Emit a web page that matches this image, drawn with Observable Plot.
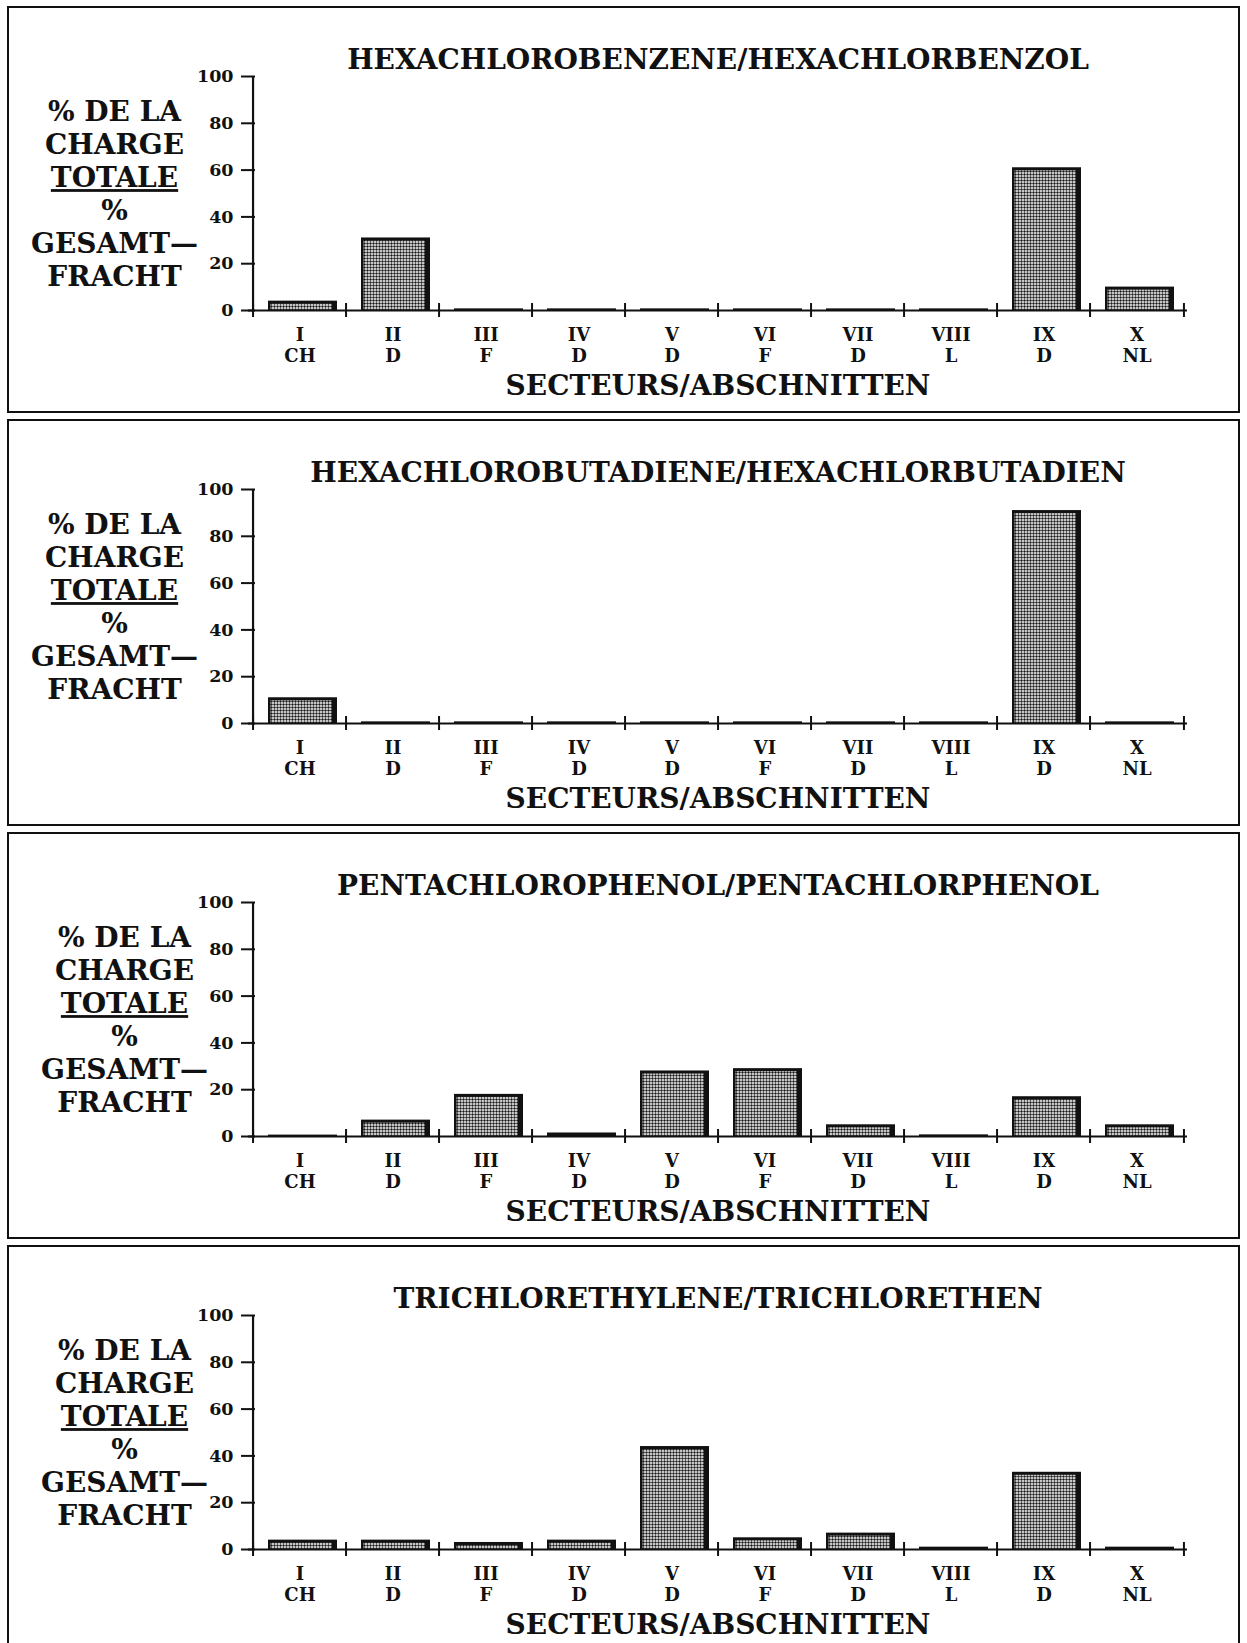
<!DOCTYPE html>
<html>
<head>
<meta charset="utf-8">
<script src="https://cdn.jsdelivr.net/npm/d3@7"></script>
<script src="https://cdn.jsdelivr.net/npm/@observablehq/plot@0.6"></script>
<style>
  body { margin: 0; background: #fff; }
  #charts { position: absolute; left: 7px; top: 6px; }
  .panel { width: 1229px; height: 403px; border: 2px solid #111; margin-bottom: 6px; background: #fff; }
  .panel svg { display: block; }
</style>
</head>
<body>
<svg width="0" height="0" style="position:absolute">
  <defs>
    <pattern id="stipple" width="3" height="3" patternUnits="userSpaceOnUse">
      <rect width="3" height="3" fill="#fff"/>
      <circle cx="1.5" cy="1.5" r="1.2" fill="#1a1a1a"/>
    </pattern>
  </defs>
</svg>
<div id="charts"></div>
<script>
// Sectors of the Rhine and the country each one lies in
const sectors = ["I", "II", "III", "IV", "V", "VI", "VII", "VIII", "IX", "X"];
const countries = ["CH", "D", "F", "D", "D", "F", "D", "L", "D", "NL"];

// Share of the total load per sector (%)
const hexachlorobenzene   = [4, 31, 0.7, 0.7, 0.7, 0.7, 0.7, 0.7, 61, 10];
const hexachlorobutadiene = [11, 0.7, 0.7, 0.7, 0.7, 0.7, 0.7, 0.7, 91, 0.7];
const pentachlorophenol   = [0.6, 7, 18, 1.5, 28, 29, 5, 0.7, 17, 5];
const trichloroethylene   = [4, 4, 3, 4, 44, 5, 7, 1, 33, 1];

const titles = [
  "HEXACHLOROBENZENE/HEXACHLORBENZOL",
  "HEXACHLOROBUTADIENE/HEXACHLORBUTADIEN",
  "PENTACHLOROPHENOL/PENTACHLORPHENOL",
  "TRICHLORETHYLENE/TRICHLORETHEN"
];
const series = [hexachlorobenzene, hexachlorobutadiene, pentachlorophenol, trichloroethylene];

const yTicks = [0, 20, 40, 60, 80, 100];
const yLabel = "% DE LA\nCHARGE\nTOTALE\n%\nGESAMT—\nFRACHT";
const xLabel = "SECTEURS/ABSCHNITTEN";

const W = 1229, H = 403;
const M = {top: 68, right: 51, bottom: 101, left: 239};
const bw = (W - M.left - M.right) / sectors.length;
const ink = "#111";
// horizontal offset of the side label block from the y axis, per panel
const yLabelShift = [-134, -134, -124, -124];

const container = document.getElementById("charts");

series.forEach((values, k) => {
  const rows = sectors.map((s, i) => ({sector: s, country: countries[i], value: values[i]}));
  const svg = Plot.plot({
    width: W,
    height: H,
    marginTop: M.top,
    marginRight: M.right,
    marginBottom: M.bottom,
    marginLeft: M.left,
    style: {fontFamily: "DejaVu Serif", fontWeight: "bold", color: ink, background: "transparent", overflow: "visible"},
    x: {type: "band", domain: sectors, padding: 0, axis: null},
    y: {domain: [0, 100], axis: null},
    marks: [
      // solid dark body of each bar (outline and right-hand shadow)
      Plot.barY(rows, {x: "sector", y: "value", fill: ink, insetLeft: 15, insetRight: 9}),
      // stippled face of each bar
      Plot.barY(rows.filter(d => d.value > 2.5), {
        x: "sector", y1: 0, y2: "value", fill: "url(#stipple)",
        insetLeft: 17.5, insetRight: 14, insetTop: 3
      }),
      // axis lines
      Plot.ruleY([0], {stroke: ink, strokeWidth: 2.2}),
      Plot.ruleX(sectors.slice(0, 1), {x: d => d, dx: -bw / 2, y1: 0, y2: 100, stroke: ink, strokeWidth: 2.2}),
      // sector boundary ticks crossing the x axis
      Plot.ruleX(sectors, {x: d => d, dx: -bw / 2, y1: 0, y2: 0, insetTop: -7, insetBottom: -7, stroke: ink, strokeWidth: 2}),
      Plot.ruleX(sectors.slice(-1), {x: d => d, dx: bw / 2, y1: 0, y2: 0, insetTop: -7, insetBottom: -7, stroke: ink, strokeWidth: 2}),
      // y axis, ticks crossing the axis line
      Plot.axisY({ticks: yTicks, tickSize: 14, dx: 7, tickPadding: 8, fontSize: 17.5, strokeWidth: 2, label: null}),
      // sector numeral and country under each band
      Plot.text(rows, {
        x: "sector", text: d => `${d.sector}\n${d.country}`,
        frameAnchor: "bottom", lineAnchor: "middle", dy: 34.5, lineHeight: 1.17, fontSize: 18
      }),
      Plot.text([titles[k]], {frameAnchor: "top", lineAnchor: "middle", dy: -16, fontSize: 28}),
      Plot.text([xLabel], {frameAnchor: "bottom", lineAnchor: "middle", dy: 76, fontSize: 28}),
      Plot.text([yLabel], {
        frameAnchor: "left", lineAnchor: "middle", textAnchor: "middle",
        dx: yLabelShift[k], dy: -0.5, lineHeight: 1.175, fontSize: 28
      })
    ]
  });
  svg.querySelectorAll("tspan").forEach(t => {
    if (t.textContent === "TOTALE") t.style.textDecoration = "underline";
  });
  const panel = document.createElement("div");
  panel.className = "panel";
  panel.appendChild(svg);
  container.appendChild(panel);
});
</script>
</body>
</html>
